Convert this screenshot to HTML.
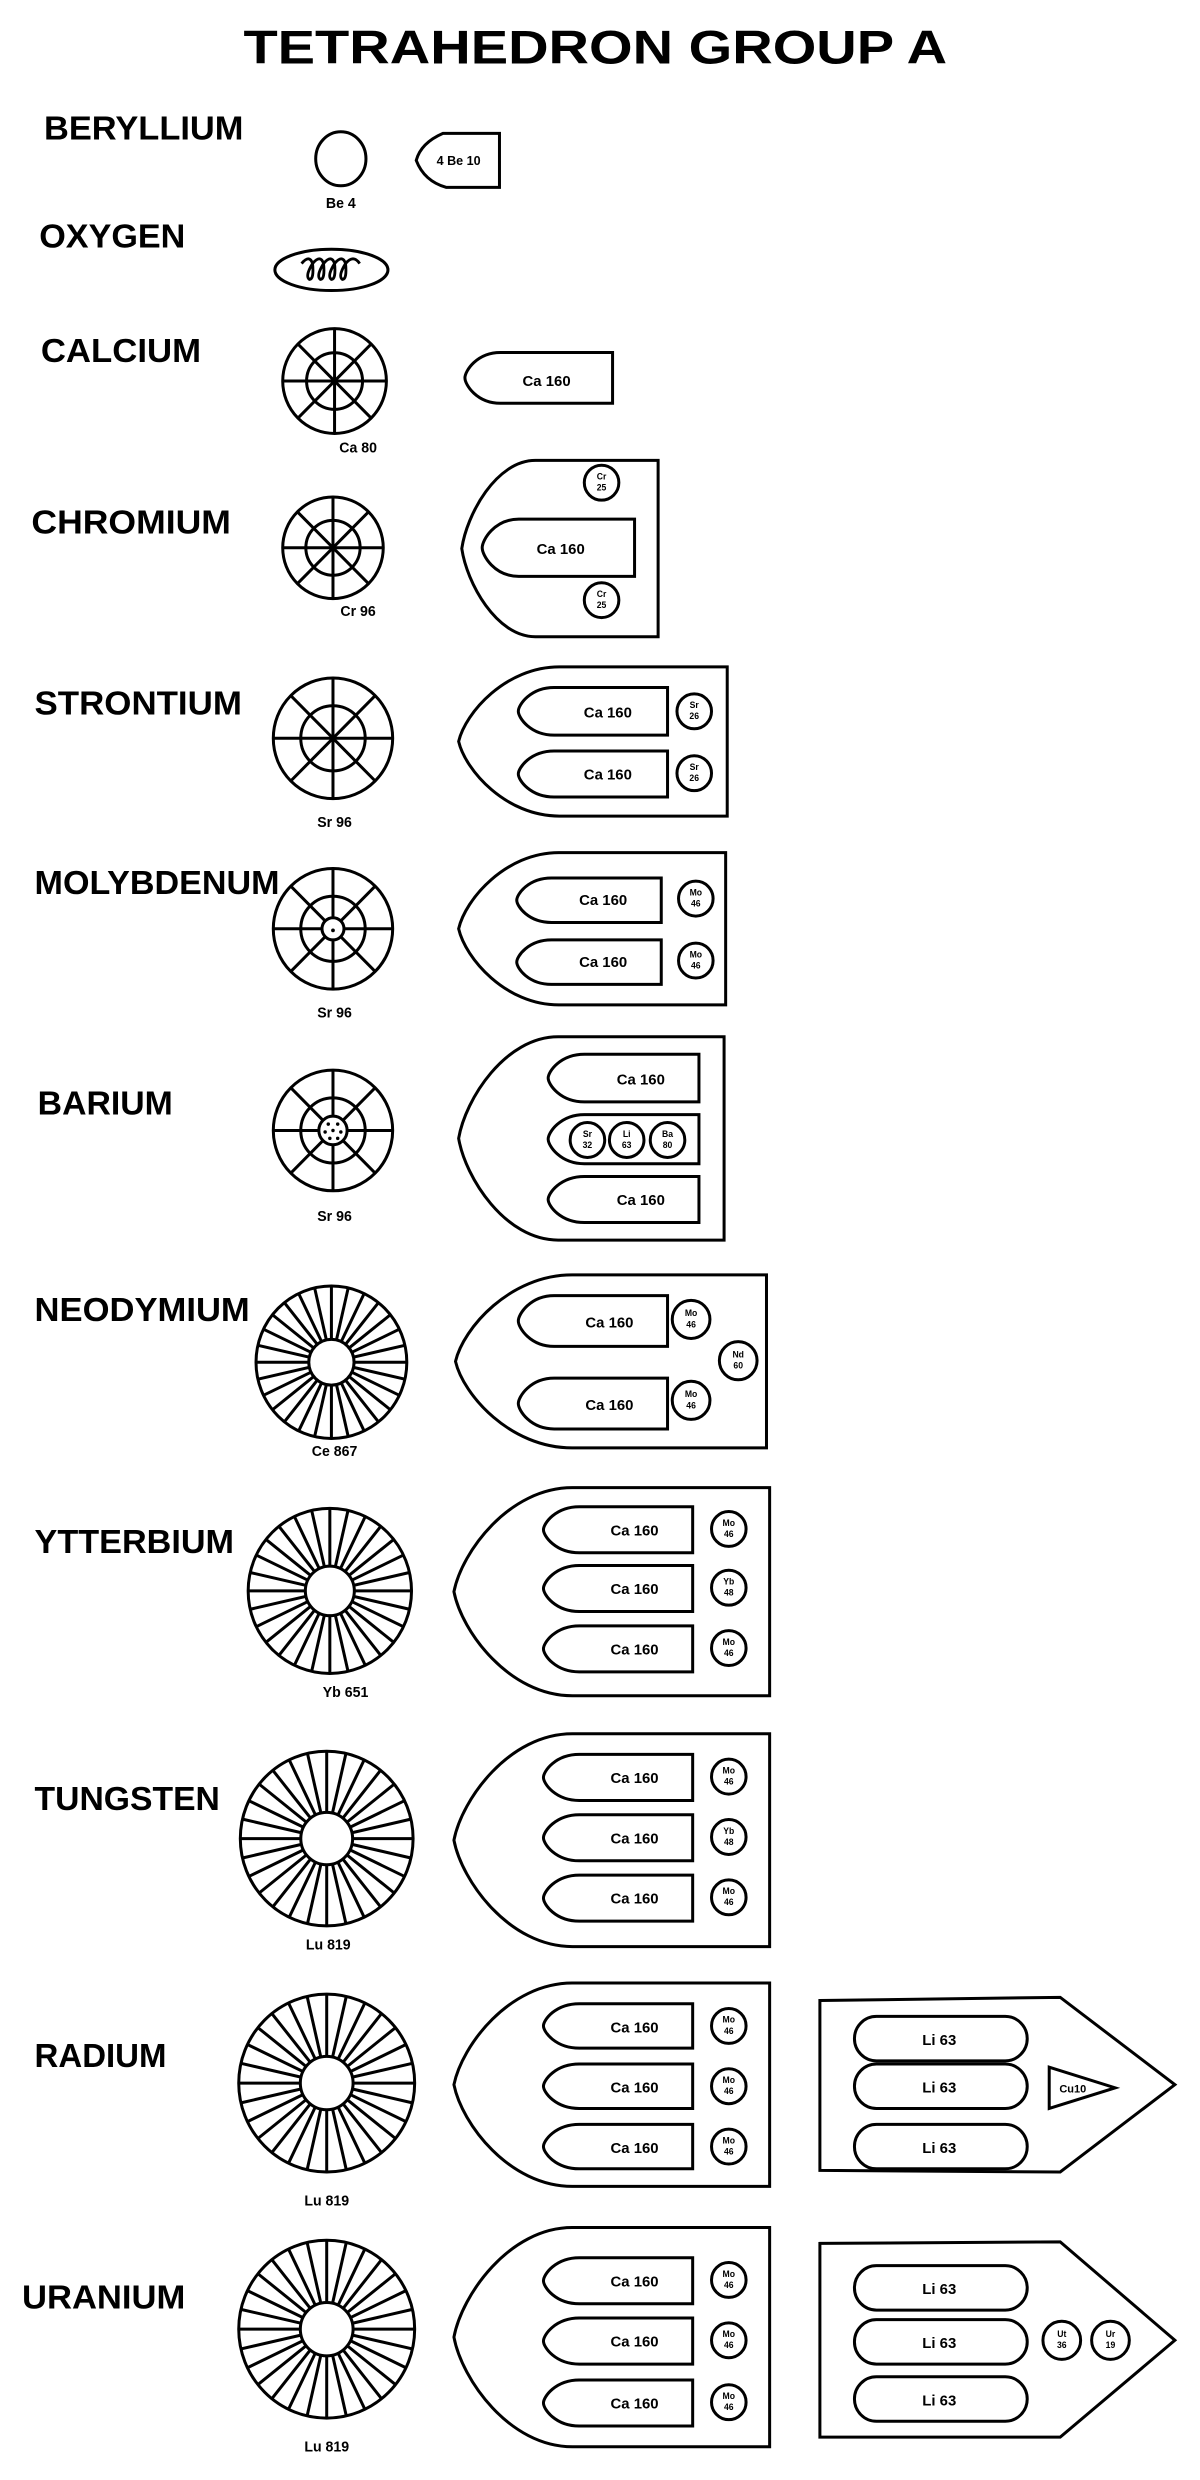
<!DOCTYPE html>
<html><head><meta charset="utf-8"><style>
html,body{margin:0;padding:0;background:#fff}
svg{display:block}
text{font-family:"Liberation Sans",sans-serif;font-weight:bold;fill:#000}
.lb{font-size:21px}
.sm{font-size:9px;text-anchor:middle}
.bt{font-size:9.5px;text-anchor:middle}
.tn{font-size:5.5px;text-anchor:middle}
.s{fill:#fff;stroke:#000;stroke-width:3;vector-effect:non-scaling-stroke}
</style></head><body>
<svg width="1200" height="2480" viewBox="0 0 764 1562" preserveAspectRatio="none" xmlns="http://www.w3.org/2000/svg">
<defs>
<path id="bul" class="s" d="M100,0 L24,0 C8,0 0,11 0,15 C0,19 8,30 24,30 L100,30 Z"/>
<path id="shd" class="s" d="M200,0 L75,0 C35,0 5,40 0,65 C5,90 35,130 75,130 L200,130 Z"/>
<g id="w8">
<circle class="s" r="50"/>
<circle class="s" r="27"/>
<g stroke="#000" stroke-width="3">
<line x1="-50" y1="0" x2="50" y2="0" vector-effect="non-scaling-stroke"/>
<line x1="0" y1="-50" x2="0" y2="50" vector-effect="non-scaling-stroke"/>
<line x1="-35.4" y1="-35.4" x2="35.4" y2="35.4" vector-effect="non-scaling-stroke"/>
<line x1="-35.4" y1="35.4" x2="35.4" y2="-35.4" vector-effect="non-scaling-stroke"/>
</g>
</g>
<g id="wb">
<circle class="s" r="50"/>
<g stroke="#000" stroke-width="3">
<line vector-effect="non-scaling-stroke" x1="50" y1="0" x2="-50" y2="0"/>
<line vector-effect="non-scaling-stroke" x1="48.75" y1="11.13" x2="-48.75" y2="-11.13"/>
<line vector-effect="non-scaling-stroke" x1="45.05" y1="21.69" x2="-45.05" y2="-21.69"/>
<line vector-effect="non-scaling-stroke" x1="39.09" y1="31.17" x2="-39.09" y2="-31.17"/>
<line vector-effect="non-scaling-stroke" x1="31.17" y1="39.09" x2="-31.17" y2="-39.09"/>
<line vector-effect="non-scaling-stroke" x1="21.69" y1="45.05" x2="-21.69" y2="-45.05"/>
<line vector-effect="non-scaling-stroke" x1="11.13" y1="48.75" x2="-11.13" y2="-48.75"/>
<line vector-effect="non-scaling-stroke" x1="0" y1="50" x2="0" y2="-50"/>
<line vector-effect="non-scaling-stroke" x1="-11.13" y1="48.75" x2="11.13" y2="-48.75"/>
<line vector-effect="non-scaling-stroke" x1="-21.69" y1="45.05" x2="21.69" y2="-45.05"/>
<line vector-effect="non-scaling-stroke" x1="-31.17" y1="39.09" x2="31.17" y2="-39.09"/>
<line vector-effect="non-scaling-stroke" x1="-39.09" y1="31.17" x2="39.09" y2="-31.17"/>
<line vector-effect="non-scaling-stroke" x1="-45.05" y1="21.69" x2="45.05" y2="-21.69"/>
<line vector-effect="non-scaling-stroke" x1="-48.75" y1="11.13" x2="48.75" y2="-11.13"/>
</g>
<circle class="s" r="15"/>
</g>
</defs>

<text x="379" y="40" font-size="30" text-anchor="middle" textLength="448" lengthAdjust="spacingAndGlyphs">TETRAHEDRON  GROUP A</text>

<text class="lb" x="28" y="88" textLength="127" lengthAdjust="spacingAndGlyphs">BERYLLIUM</text>
<text class="lb" x="25" y="156" textLength="93" lengthAdjust="spacingAndGlyphs">OXYGEN</text>
<text class="lb" x="26" y="228" textLength="102" lengthAdjust="spacingAndGlyphs">CALCIUM</text>
<text class="lb" x="20" y="336" textLength="127" lengthAdjust="spacingAndGlyphs">CHROMIUM</text>
<text class="lb" x="22" y="450" textLength="132" lengthAdjust="spacingAndGlyphs">STRONTIUM</text>
<text class="lb" x="22" y="563" textLength="156" lengthAdjust="spacingAndGlyphs">MOLYBDENUM</text>
<text class="lb" x="24" y="702" textLength="86" lengthAdjust="spacingAndGlyphs">BARIUM</text>
<text class="lb" x="22" y="832" textLength="137" lengthAdjust="spacingAndGlyphs">NEODYMIUM</text>
<text class="lb" x="22" y="978" textLength="127" lengthAdjust="spacingAndGlyphs">YTTERBIUM</text>
<text class="lb" x="22" y="1140" textLength="118" lengthAdjust="spacingAndGlyphs">TUNGSTEN</text>
<text class="lb" x="22" y="1302" textLength="84" lengthAdjust="spacingAndGlyphs">RADIUM</text>
<text class="lb" x="14" y="1454" textLength="104" lengthAdjust="spacingAndGlyphs">URANIUM</text>

<ellipse class="s" cx="217" cy="100" rx="16" ry="17"/>
<text class="sm" x="217" y="131">Be 4</text>
<path class="s" d="M318,84 H282 Q268,90 265,101 Q270,114 284,118 H318 Z"/>
<text x="292" y="104" font-size="8" text-anchor="middle">4 Be 10</text>

<ellipse class="s" cx="211" cy="170" rx="36" ry="13"/>
<path d="M192,166 Q197,160 199,166 Q200,176 197,176 Q194,174 199,166 Q204,160 206,166 Q207,176 204,176 Q201,174 206,166 Q211,160 213,166 Q214,176 211,176 Q208,174 213,166 Q218,160 220,166 Q221,176 218,176 Q215,174 220,166 Q225,160 229,166" fill="none" stroke="#000" stroke-width="1.8"/>

<use href="#w8" transform="translate(213 240) scale(.66)"/>
<text class="sm" x="228" y="285">Ca 80</text>
<use href="#bul" transform="translate(296 222) scale(.94 1.067)"/>
<text class="bt" x="348" y="243">Ca 160</text>

<use href="#w8" transform="translate(212 345) scale(.64)"/>
<text class="sm" x="228" y="388">Cr 96</text>
<use href="#shd" transform="translate(294 290) scale(.625 .854)"/>
<use href="#bul" transform="translate(307 327) scale(.97 1.2)"/>
<text class="bt" x="357" y="349">Ca 160</text>
<circle class="s" cx="383" cy="304" r="11"/><text class="tn" x="383" y="302">Cr</text><text class="tn" x="383" y="309">25</text>
<circle class="s" cx="383" cy="378" r="11"/><text class="tn" x="383" y="376">Cr</text><text class="tn" x="383" y="383">25</text>

<use href="#w8" transform="translate(212 465) scale(.76)"/>
<text class="sm" x="213" y="521">Sr 96</text>
<use href="#shd" transform="translate(292 420) scale(.855 .723)"/>
<use href="#bul" transform="translate(330 433) scale(.95 1)"/>
<use href="#bul" transform="translate(330 473) scale(.95 .967)"/>
<text class="bt" x="387" y="452">Ca 160</text>
<text class="bt" x="387" y="491">Ca 160</text>
<circle class="s" cx="442" cy="448" r="11"/><text class="tn" x="442" y="446">Sr</text><text class="tn" x="442" y="453">26</text>
<circle class="s" cx="442" cy="487" r="11"/><text class="tn" x="442" y="485">Sr</text><text class="tn" x="442" y="492">26</text>

<use href="#w8" transform="translate(212 585) scale(.76)"/>
<circle class="s" cx="212" cy="585" r="7"/>
<circle cx="212" cy="586" r="1.2"/>
<text class="sm" x="213" y="641">Sr 96</text>
<use href="#shd" transform="translate(292 537) scale(.85 .738)"/>
<use href="#bul" transform="translate(329 553) scale(.92 .933)"/>
<use href="#bul" transform="translate(329 592) scale(.92 .933)"/>
<text class="bt" x="384" y="570">Ca 160</text>
<text class="bt" x="384" y="609">Ca 160</text>
<circle class="s" cx="443" cy="566" r="11"/><text class="tn" x="443" y="564">Mo</text><text class="tn" x="443" y="571">46</text>
<circle class="s" cx="443" cy="605" r="11"/><text class="tn" x="443" y="603">Mo</text><text class="tn" x="443" y="610">46</text>

<use href="#w8" transform="translate(212 712) scale(.76)"/>
<circle class="s" cx="212" cy="712" r="9"/>
<g fill="#000"><circle cx="209" cy="708" r="1.1"/><circle cx="215" cy="708" r="1.1"/><circle cx="207" cy="713" r="1.1"/><circle cx="212" cy="712" r="1.1"/><circle cx="217" cy="713" r="1.1"/><circle cx="210" cy="717" r="1.1"/><circle cx="215" cy="717" r="1.1"/></g>
<text class="sm" x="213" y="769">Sr 96</text>
<use href="#shd" transform="translate(292 653) scale(.845 .985)"/>
<use href="#bul" transform="translate(349 664) scale(.96 1)"/>
<use href="#bul" transform="translate(349 702) scale(.96 1.033)"/>
<use href="#bul" transform="translate(349 741) scale(.96 .967)"/>
<text class="bt" x="408" y="683">Ca 160</text>
<text class="bt" x="408" y="759">Ca 160</text>
<circle class="s" cx="374" cy="718" r="11"/><text class="tn" x="374" y="716">Sr</text><text class="tn" x="374" y="723">32</text>
<circle class="s" cx="399" cy="718" r="11"/><text class="tn" x="399" y="716">Li</text><text class="tn" x="399" y="723">63</text>
<circle class="s" cx="425" cy="718" r="11"/><text class="tn" x="425" y="716">Ba</text><text class="tn" x="425" y="723">80</text>

<use href="#wb" transform="translate(211 858) scale(.96)"/>
<text class="sm" x="213" y="917">Ce 867</text>
<use href="#shd" transform="translate(290 803) scale(.99 .838)"/>
<use href="#bul" transform="translate(330 816) scale(.95 1.067)"/>
<use href="#bul" transform="translate(330 868) scale(.95 1.067)"/>
<text class="bt" x="388" y="836">Ca 160</text>
<text class="bt" x="388" y="888">Ca 160</text>
<circle class="s" cx="440" cy="831" r="12"/><text class="tn" x="440" y="829">Mo</text><text class="tn" x="440" y="836">46</text>
<circle class="s" cx="470" cy="857" r="12"/><text class="tn" x="470" y="855">Nd</text><text class="tn" x="470" y="862">60</text>
<circle class="s" cx="440" cy="882" r="12"/><text class="tn" x="440" y="880">Mo</text><text class="tn" x="440" y="887">46</text>

<use href="#wb" transform="translate(210 1002) scale(1.04)"/>
<text class="sm" x="220" y="1069">Yb 651</text>
<use href="#shd" transform="translate(289 937) scale(1.005 1.008)"/>
<use href="#bul" transform="translate(346 949) scale(.95 .967)"/>
<use href="#bul" transform="translate(346 986) scale(.95 .967)"/>
<use href="#bul" transform="translate(346 1024) scale(.95 .967)"/>
<text class="bt" x="404" y="967">Ca 160</text>
<text class="bt" x="404" y="1004">Ca 160</text>
<text class="bt" x="404" y="1042">Ca 160</text>
<circle class="s" cx="464" cy="963" r="11"/><text class="tn" x="464" y="961">Mo</text><text class="tn" x="464" y="968">46</text>
<circle class="s" cx="464" cy="1000" r="11"/><text class="tn" x="464" y="998">Yb</text><text class="tn" x="464" y="1005">48</text>
<circle class="s" cx="464" cy="1038" r="11"/><text class="tn" x="464" y="1036">Mo</text><text class="tn" x="464" y="1043">46</text>

<use href="#wb" transform="translate(208 1158) scale(1.1)"/>
<text class="sm" x="209" y="1228">Lu 819</text>
<use href="#shd" transform="translate(289 1092) scale(1.005 1.031)"/>
<use href="#bul" transform="translate(346 1105) scale(.95 .967)"/>
<use href="#bul" transform="translate(346 1143) scale(.95 .967)"/>
<use href="#bul" transform="translate(346 1181) scale(.95 .967)"/>
<text class="bt" x="404" y="1123">Ca 160</text>
<text class="bt" x="404" y="1161">Ca 160</text>
<text class="bt" x="404" y="1199">Ca 160</text>
<circle class="s" cx="464" cy="1119" r="11"/><text class="tn" x="464" y="1117">Mo</text><text class="tn" x="464" y="1124">46</text>
<circle class="s" cx="464" cy="1157" r="11"/><text class="tn" x="464" y="1155">Yb</text><text class="tn" x="464" y="1162">48</text>
<circle class="s" cx="464" cy="1195" r="11"/><text class="tn" x="464" y="1193">Mo</text><text class="tn" x="464" y="1200">46</text>

<use href="#wb" transform="translate(208 1312) scale(1.12)"/>
<text class="sm" x="208" y="1389">Lu 819</text>
<use href="#shd" transform="translate(289 1249) scale(1.005 .985)"/>
<use href="#bul" transform="translate(346 1262) scale(.95 .933)"/>
<use href="#bul" transform="translate(346 1300) scale(.95 .933)"/>
<use href="#bul" transform="translate(346 1338) scale(.95 .933)"/>
<text class="bt" x="404" y="1280">Ca 160</text>
<text class="bt" x="404" y="1318">Ca 160</text>
<text class="bt" x="404" y="1356">Ca 160</text>
<circle class="s" cx="464" cy="1276" r="11"/><text class="tn" x="464" y="1274">Mo</text><text class="tn" x="464" y="1281">46</text>
<circle class="s" cx="464" cy="1314" r="11"/><text class="tn" x="464" y="1312">Mo</text><text class="tn" x="464" y="1319">46</text>
<circle class="s" cx="464" cy="1352" r="11"/><text class="tn" x="464" y="1350">Mo</text><text class="tn" x="464" y="1357">46</text>
<path class="s" d="M522,1260 L675,1258 L748,1313 L675,1368 L522,1367 Z"/>
<rect class="s" x="544" y="1270" width="110" height="28" rx="14"/>
<rect class="s" x="544" y="1300" width="110" height="28" rx="14"/>
<rect class="s" x="544" y="1338" width="110" height="28" rx="14"/>
<text class="bt" x="598" y="1288">Li 63</text>
<text class="bt" x="598" y="1318">Li 63</text>
<text class="bt" x="598" y="1356">Li 63</text>
<path class="s" d="M668,1302 L710,1315 L668,1328 Z"/>
<text x="683" y="1318" font-size="7" text-anchor="middle">Cu10</text>

<use href="#wb" transform="translate(208 1467) scale(1.12)"/>
<text class="sm" x="208" y="1544">Lu 819</text>
<use href="#shd" transform="translate(289 1403) scale(1.005 1.062)"/>
<use href="#bul" transform="translate(346 1422) scale(.95 .967)"/>
<use href="#bul" transform="translate(346 1460) scale(.95 .967)"/>
<use href="#bul" transform="translate(346 1499) scale(.95 .967)"/>
<text class="bt" x="404" y="1440">Ca 160</text>
<text class="bt" x="404" y="1478">Ca 160</text>
<text class="bt" x="404" y="1517">Ca 160</text>
<circle class="s" cx="464" cy="1436" r="11"/><text class="tn" x="464" y="1434">Mo</text><text class="tn" x="464" y="1441">46</text>
<circle class="s" cx="464" cy="1474" r="11"/><text class="tn" x="464" y="1472">Mo</text><text class="tn" x="464" y="1479">46</text>
<circle class="s" cx="464" cy="1513" r="11"/><text class="tn" x="464" y="1511">Mo</text><text class="tn" x="464" y="1518">46</text>
<path class="s" d="M522,1413 L675,1412 L748,1474 L675,1535 L522,1535 Z"/>
<rect class="s" x="544" y="1427" width="110" height="28" rx="14"/>
<rect class="s" x="544" y="1461" width="110" height="28" rx="14"/>
<rect class="s" x="544" y="1497" width="110" height="28" rx="14"/>
<text class="bt" x="598" y="1445">Li 63</text>
<text class="bt" x="598" y="1479">Li 63</text>
<text class="bt" x="598" y="1515">Li 63</text>
<circle class="s" cx="676" cy="1474" r="12"/><text class="tn" x="676" y="1472">Ut</text><text class="tn" x="676" y="1479">36</text>
<circle class="s" cx="707" cy="1474" r="12"/><text class="tn" x="707" y="1472">Ur</text><text class="tn" x="707" y="1479">19</text>
</svg>
</body></html>
